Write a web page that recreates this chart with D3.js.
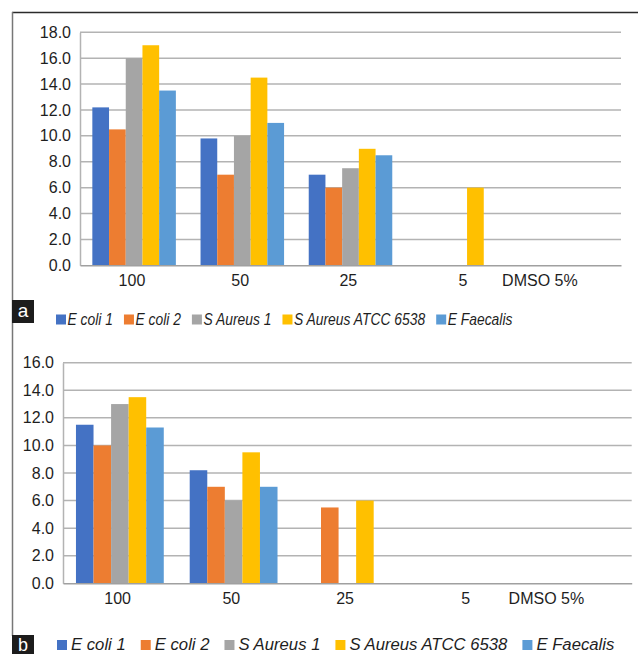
<!DOCTYPE html>
<html>
<head>
<meta charset="utf-8">
<script src="https://cdn.jsdelivr.net/npm/d3@7/dist/d3.min.js"></script>
<style>
  html, body { margin: 0; padding: 0; background: #fff; }
  svg { display: block; font-family: "Liberation Sans", Arial, sans-serif; }
</style>
</head>
<body>
<svg id="chart" width="638" height="654"></svg>
<script>
// Concentration groups on the x axis
const categories = ["100", "50", "25", "5", "DMSO 5%"];

// Bacterial strains (one bar per strain in each group)
const seriesNames = ["E coli 1", "E coli 2", "S Aureus 1", "S Aureus ATCC 6538", "E Faecalis"];
const seriesColors = ["#4472C4", "#ED7D31", "#A5A5A5", "#FFC000", "#5B9BD5"];

// Panel a: inhibition zone values
const ecoli1A      = [12.2, 9.8, 7.0, 0, 0];
const ecoli2A      = [10.5, 7.0, 6.0, 0, 0];
const sAureus1A    = [16.0, 10.0, 7.5, 0, 0];
const sAureusAtccA = [17.0, 14.5, 9.0, 6.0, 0];
const eFaecalisA   = [13.5, 11.0, 8.5, 0, 0];
const ticksA = [0, 2, 4, 6, 8, 10, 12, 14, 16, 18];

// Panel b: inhibition zone values
const ecoli1B      = [11.5, 8.2, 0, 0, 0];
const ecoli2B      = [10.0, 7.0, 5.5, 0, 0];
const sAureus1B    = [13.0, 6.0, 0, 0, 0];
const sAureusAtccB = [13.5, 9.5, 6.0, 0, 0];
const eFaecalisB   = [11.3, 7.0, 0, 0, 0];
const ticksB = [0, 2, 4, 6, 8, 10, 12, 14, 16];

const svg = d3.select("#chart");

// Outer frame: top rule and left rule
svg.append("line").attr("x1", 12).attr("x2", 638).attr("y1", 12.5).attr("y2", 12.5)
  .attr("stroke", "#2b2b2b").attr("stroke-width", 1.5);
svg.append("line").attr("x1", 12.5).attr("x2", 12.5).attr("y1", 12).attr("y2", 636)
  .attr("stroke", "#777").attr("stroke-width", 1.5);

function drawPanel(cfg) {
  const series = [cfg.s1, cfg.s2, cfg.s3, cfg.s4, cfg.s5];
  const g = svg.append("g");

  const x0 = d3.scaleBand().domain(categories).range([cfg.left, cfg.right]);
  const step = x0.step();
  const x1 = d3.scaleBand().domain(seriesNames).range([step * 0.114, step * 0.886]);
  const y = d3.scaleLinear().domain([0, d3.max(cfg.ticks)]).range([cfg.bottom, cfg.top]);

  // Horizontal gridlines
  g.append("g").selectAll("line").data(cfg.ticks.filter(t => t > 0)).join("line")
    .attr("x1", cfg.left).attr("x2", cfg.right)
    .attr("y1", d => y(d)).attr("y2", d => y(d))
    .attr("stroke", "#b3b3b3").attr("stroke-width", 1.5);

  // Bars
  const rows = categories.map((c, i) => ({ cat: c, vals: series.map((s, k) => ({ name: seriesNames[k], v: s[i], k })) }));
  const grp = g.append("g").selectAll("g").data(rows).join("g")
    .attr("transform", d => `translate(${x0(d.cat)},0)`);
  grp.selectAll("rect").data(d => d.vals.filter(e => e.v > 0)).join("rect")
    .attr("x", d => x1(d.name))
    .attr("width", x1.bandwidth())
    .attr("y", d => y(d.v))
    .attr("height", d => y(0) - y(d.v))
    .attr("fill", d => seriesColors[d.k]);

  // Y axis
  const ya = g.append("g").attr("transform", `translate(${cfg.left},0)`)
    .call(d3.axisLeft(y).tickValues(cfg.ticks).tickFormat(d3.format(".1f")).tickSize(0).tickPadding(9));
  ya.select(".domain").attr("stroke", "#b3b3b3").attr("stroke-width", 1.5);
  ya.selectAll("text").attr("font-size", 16).attr("fill", "#1e1e1e")
    .attr("font-family", "'Liberation Sans', Arial, sans-serif");

  // X axis
  const xa = g.append("g").attr("transform", `translate(0,${cfg.bottom})`)
    .call(d3.axisBottom(x0).tickSize(0).tickPadding(9.5));
  xa.select(".domain").attr("stroke", "#a0a0a0").attr("stroke-width", 1.5);
  xa.selectAll("text").attr("font-size", 16).attr("fill", "#1e1e1e")
    .attr("font-family", "'Liberation Sans', Arial, sans-serif")
    .attr("dx", d => d === "DMSO 5%" ? -0.25 * step : (d === "5" ? 0.04 * step : -0.02 * step));

  // Legend
  const lg = g.append("g");
  let lx = cfg.legendX;
  seriesNames.forEach((name, k) => {
    lg.append("rect").attr("x", lx).attr("y", cfg.legendY - cfg.sq).attr("width", cfg.sq).attr("height", cfg.sq)
      .attr("fill", seriesColors[k]);
    const t = lg.append("text").attr("x", lx + cfg.sq + cfg.textGap).attr("y", cfg.legendY)
      .attr("font-size", cfg.legendFont).attr("font-style", "italic").attr("fill", "#1e1e1e")
      .text(name);
    let w = t.node().getComputedTextLength();
    if (cfg.squeeze !== 1) {
      w = w * cfg.squeeze;
      t.attr("textLength", w).attr("lengthAdjust", "spacingAndGlyphs");
    }
    lx += cfg.sq + cfg.textGap + w + cfg.itemGap;
  });

  // Panel letter
  svg.append("rect").attr("x", 12).attr("y", cfg.tagY).attr("width", 22).attr("height", cfg.tagH).attr("fill", "#1c1c1c");
  svg.append("text").attr("x", 23).attr("y", cfg.tagY + cfg.tagBase).attr("text-anchor", "middle")
    .attr("font-size", cfg.tagFont).attr("fill", "#fff").text(cfg.tag);
}

drawPanel({
  s1: ecoli1A, s2: ecoli2A, s3: sAureus1A, s4: sAureusAtccA, s5: eFaecalisA,
  ticks: ticksA, left: 80, right: 621, top: 32.3, bottom: 265.3,
  legendX: 56, legendY: 324.5, sq: 10, textGap: 1.5, itemGap: 11, legendFont: 16.5, squeeze: 0.84,
  tag: "a", tagY: 300, tagH: 23, tagBase: 17, tagFont: 19
});

drawPanel({
  s1: ecoli1B, s2: ecoli2B, s3: sAureus1B, s4: sAureusAtccB, s5: eFaecalisB,
  ticks: ticksB, left: 63, right: 631.7, top: 362.7, bottom: 583.3,
  legendX: 57, legendY: 650, sq: 10, textGap: 4, itemGap: 15, legendFont: 16.7, squeeze: 1,
  tag: "b", tagY: 635, tagH: 22, tagBase: 16, tagFont: 18
});
</script>
</body>
</html>
